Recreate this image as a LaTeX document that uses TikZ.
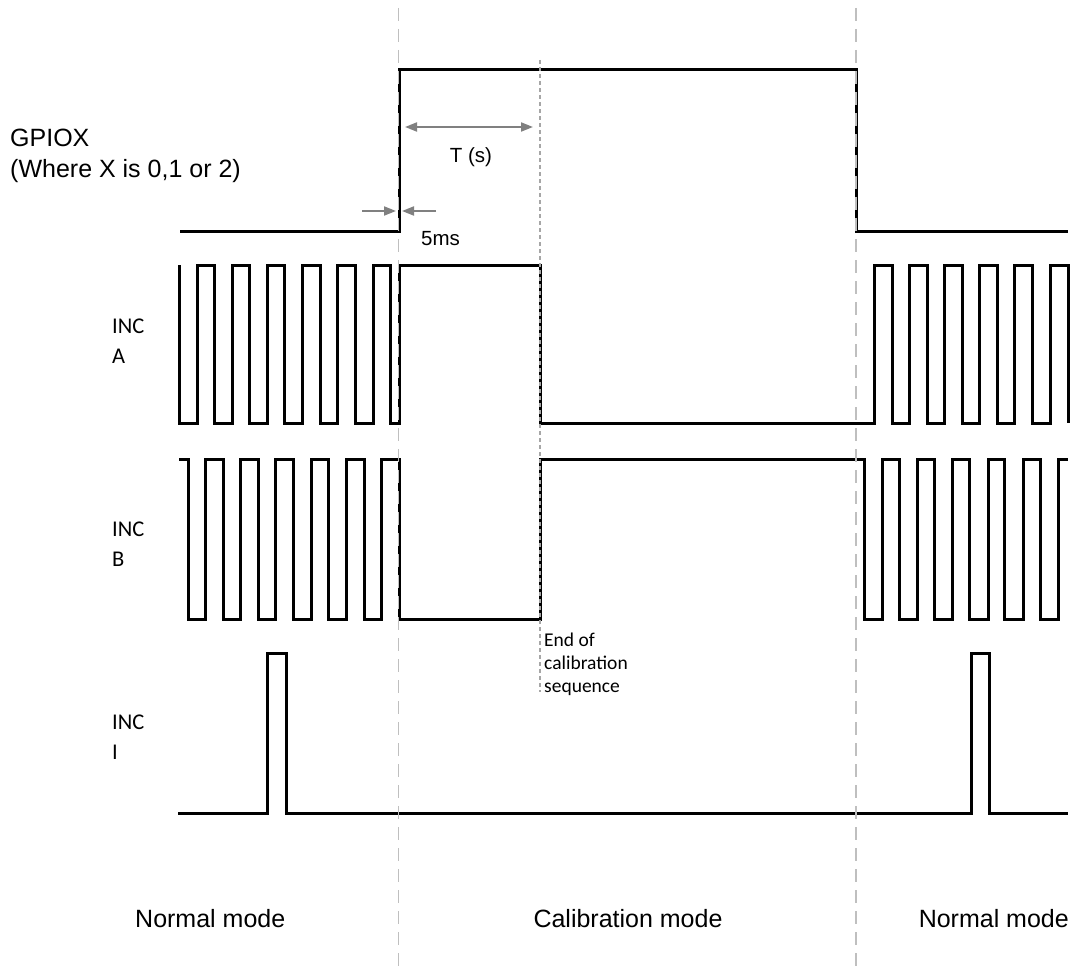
\documentclass[tikz,border=0pt]{standalone}
\usepackage{fontspec}
\setmainfont{Liberation Sans}
\newfontfamily\carlito{Carlito}
\usetikzlibrary{arrows.meta}
\begin{document}
\begin{tikzpicture}[x=1pt,y=-1pt,
  wave/.style={line width=3pt, line join=miter, line cap=butt, black},
  guide/.style={line width=1.6pt, color=black!25, dash pattern=on 13pt off 8pt},
  fineguide/.style={line width=1.2pt, color=black!35, dash pattern=on 4pt off 3pt},
  dimarrow/.style={line width=2pt, color=black!50, -{Triangle[length=12pt,width=9pt]}},
  dimboth/.style={line width=2pt, color=black!50, {Triangle[length=12pt,width=9pt]}-{Triangle[length=12pt,width=9pt]}},
  biglabel/.style={font=\fontsize{25}{30}\selectfont, inner sep=0pt},
  midlabel/.style={font=\fontsize{20.5}{24}\selectfont, inner sep=0pt},
  inclabel/.style={font=\carlito\fontsize{22.5}{27}\selectfont, inner sep=0pt, anchor=base west},
  notelabel/.style={font=\carlito\fontsize{19.5}{23}\selectfont, inner sep=0pt, anchor=base west}
]
\useasboundingbox (0,0) rectangle (1071,966);

% GPIOX
\draw[wave] (180,231) -- (399,231) -- (399,70) -- (856,70) -- (856,231) -- (1068,231);

% INC A
\draw[wave] (179,265) -- (179,423)
  \foreach \k in {0,...,5} { -- ({197+35.2*\k},423) -- ({197+35.2*\k},265) -- ({214.5+35.2*\k},265) -- ({214.5+35.2*\k},423) }
  -- (399,423) -- (399,265) -- (540,265) -- (540,423) -- (874,423)
  \foreach \k in {0,...,5} { -- ({874+35.2*\k},423) -- ({874+35.2*\k},265) -- ({892+35.2*\k},265) -- ({892+35.2*\k},423) };

% INC B
\draw[wave] (179,459)
  \foreach \k in {0,...,5} { -- ({188+35.2*\k},459) -- ({188+35.2*\k},619) -- ({205.5+35.2*\k},619) -- ({205.5+35.2*\k},459) }
  -- (399,459) -- (399,619) -- (540,619) -- (540,459) -- (864,459)
  \foreach \k in {0,...,5} { -- ({864+35.2*\k},459) -- ({864+35.2*\k},619) -- ({882.5+35.2*\k},619) -- ({882.5+35.2*\k},459) }
  -- (1068,459);

% INC I
\draw[wave] (178,813) -- (267,813) -- (267,653) -- (286,653) -- (286,813) -- (971,813) -- (971,653) -- (989,653) -- (989,813) -- (1068,813);

% guide lines
\coordinate (g1t) at (398.5,8);
\coordinate (g1b) at (398.5,966);
\coordinate (g2t) at (856,8);
\coordinate (g2b) at (856,966);
\coordinate (g3t) at (540,60);
\coordinate (g3b) at (540,692);
\draw[guide] (g1t) -- (g1b);
\draw[guide] (g2t) -- (g2b);
\draw[fineguide] (g3t) -- (g3b);

% dimension arrows
\coordinate (ta) at (405,127);
\coordinate (tb) at (533,127);
\draw[dimboth] (ta) -- (tb);
\coordinate (ma1) at (362,211);
\coordinate (ma2) at (396,211);
\coordinate (mb1) at (436,211);
\coordinate (mb2) at (402,211);
\draw[dimarrow] (ma1) -- (ma2);
\draw[dimarrow] (mb1) -- (mb2);

% labels
\node[biglabel, anchor=base west] (gpio) at (10,146) {GPIOX};
\node[biglabel, anchor=base west] (where) at (10,177) {(Where X is 0,1 or 2)};
\node[midlabel, anchor=base] (tlab) at (471,162) {T (s)};
\node[midlabel, anchor=base west] (mslab) at (421,245) {5ms};

\node[inclabel] (ia1) at (112,333) {INC};
\node[inclabel] (ia2) at (112,363) {A};
\node[inclabel] (ib1) at (112,536) {INC};
\node[inclabel] (ib2) at (112,566) {B};
\node[inclabel] (ii1) at (112,729) {INC};
\node[inclabel] (ii2) at (112,759) {I};

\node[notelabel] (e1) at (544,646) {End of};
\node[notelabel] (e2) at (544,669) {calibration};
\node[notelabel] (e3) at (544,692) {sequence};

\node[biglabel, anchor=base west] (nm1) at (135,927) {Normal mode};
\node[biglabel, anchor=base] (cm) at (628,927) {Calibration mode};
\node[biglabel, anchor=base east] (nm2) at (1069,927) {Normal mode};
\end{tikzpicture}
\end{document}
